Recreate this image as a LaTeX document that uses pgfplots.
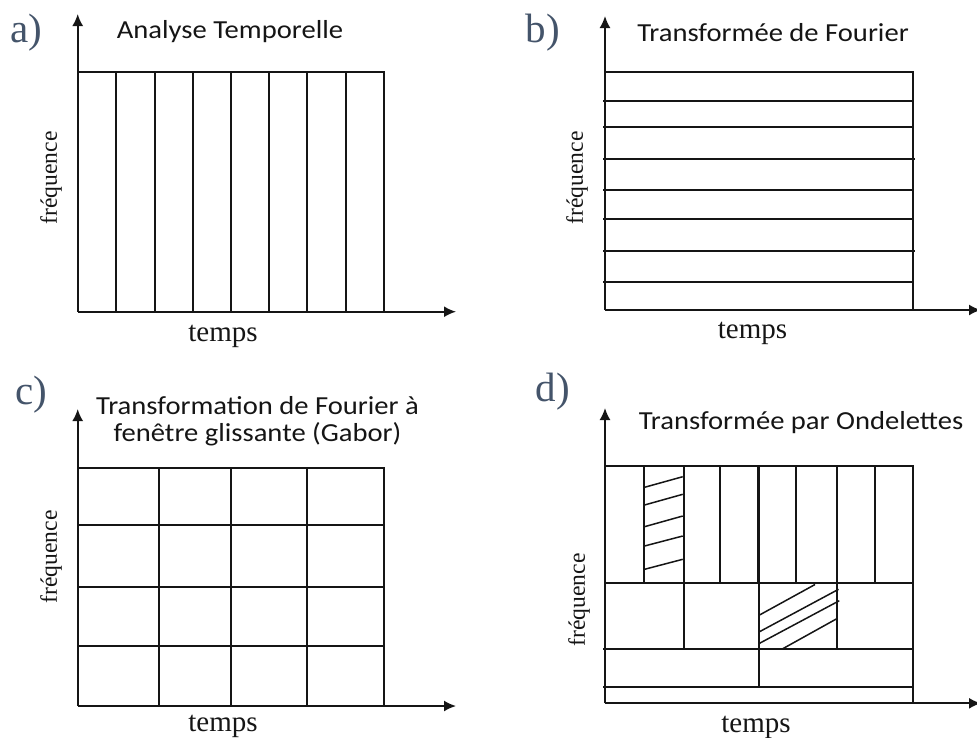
\documentclass[border=0pt]{standalone}
\usepackage{pgfplots}
\pgfplotsset{compat=1.18}
\usepackage{fontspec}
\setmainfont{Liberation Serif}
\newfontfamily\calibri[FakeStretch=1.1]{Carlito}
\usetikzlibrary{arrows.meta}
\definecolor{lbl}{HTML}{44546A}
\definecolor{ink}{HTML}{151515}
\begin{document}
\begin{tikzpicture}
\begin{axis}[
  x=0.5pt, y=0.5pt, y dir=reverse,
  xmin=0, xmax=977, ymin=0, ymax=737,
  hide axis, clip=false,
  at={(0,0)}, anchor=north west,
  seg/.style={ink, line width=1pt, no marks},
  hat/.style={ink, line width=0.75pt, no marks},
  ax/.style={ink, line width=0.9pt, no marks, -{Latex[length=6pt,width=5.5pt]}},
  every node/.append style={inner sep=0pt},
]
% ---------------- panel a ----------------
\addplot[seg] coordinates {(77.7,72.3) (384.3,72.3) (384.3,311.7)};
\addplot[seg] coordinates {(116.3,72.3) (116.3,311.7)};
\addplot[seg] coordinates {(154.7,72.3) (154.7,311.7)};
\addplot[seg] coordinates {(193,72.3) (193,311.7)};
\addplot[seg] coordinates {(231.3,72.3) (231.3,311.7)};
\addplot[seg] coordinates {(269.3,72.3) (269.3,311.7)};
\addplot[seg] coordinates {(307.3,72.3) (307.3,311.7)};
\addplot[seg] coordinates {(346,72.3) (346,311.7)};
\addplot[ax] coordinates {(77.7,311.7) (77.7,14)};
\addplot[ax] coordinates {(77.7,311.7) (456,311.7)};
% ---------------- panel b ----------------
\addplot[seg] coordinates {(605,72.3) (912.7,72.3) (912.7,310)};
\addplot[seg] coordinates {(603,100.7) (913,100.7)};
\addplot[seg] coordinates {(603,127.3) (913,127.3)};
\addplot[seg] coordinates {(603,159) (914.5,159)};
\addplot[seg] coordinates {(603,190.3) (913,190.3)};
\addplot[seg] coordinates {(603,218.7) (913,218.7)};
\addplot[seg] coordinates {(603,251) (914.5,251)};
\addplot[seg] coordinates {(603,281.7) (913,281.7)};
\addplot[ax] coordinates {(605,310) (605,16)};
\addplot[ax] coordinates {(605,310) (981,310)};
% ---------------- panel c ----------------
\addplot[seg] coordinates {(77.7,467.7) (384.3,467.7) (384.3,706)};
\addplot[seg] coordinates {(158.7,467.7) (158.7,706)};
\addplot[seg] coordinates {(231.3,467.7) (231.3,706)};
\addplot[seg] coordinates {(307.3,467.7) (307.3,706)};
\addplot[seg] coordinates {(77.7,525.3) (384.3,525.3)};
\addplot[seg] coordinates {(77.7,587) (384.3,587)};
\addplot[seg] coordinates {(77.7,646.3) (384.3,646.3)};
\addplot[ax] coordinates {(77.7,706) (77.7,409)};
\addplot[ax] coordinates {(77.7,706) (456,706)};
% ---------------- panel d ----------------
\addplot[seg] coordinates {(605,466.3) (912.7,466.3) (912.7,703.3)};
\addplot[seg] coordinates {(605,583.3) (912.7,583.3)};
\addplot[seg] coordinates {(603,649.3) (912.7,649.3)};
\addplot[seg] coordinates {(603,687.3) (912.7,687.3)};
\addplot[seg] coordinates {(643.7,466.3) (643.7,583.3)};
\addplot[seg] coordinates {(684,466.3) (684,649.3)};
\addplot[seg] coordinates {(720,466.3) (720,583.3)};
\addplot[ink, line width=1.7pt, no marks] coordinates {(758.7,466.3) (758.7,583.3)};
\addplot[seg] coordinates {(758.7,583.3) (758.7,687.3)};
\addplot[seg] coordinates {(796,466.3) (796,583.3)};
\addplot[seg] coordinates {(836.7,466.3) (836.7,649.3)};
\addplot[seg] coordinates {(875,466.3) (875,583.3)};
% hatching
\addplot[hat] coordinates {(644.5,487.3) (682.7,476.7)};
\addplot[hat] coordinates {(644.5,505) (682.7,494.3)};
\addplot[hat] coordinates {(644.5,526.7) (682.7,516)};
\addplot[hat] coordinates {(644.5,546) (682.7,536)};
\addplot[hat] coordinates {(644.5,569.3) (682.7,559.3)};
\addplot[hat] coordinates {(759.5,615) (815,584.5)};
\addplot[hat] coordinates {(759.5,631.7) (838.5,589.3)};
\addplot[hat] coordinates {(759.5,643.3) (839.3,600.7)};
\addplot[hat] coordinates {(781.7,649.3) (837.5,618.3)};
\addplot[ax] coordinates {(605,703.3) (605,408)};
\addplot[ax] coordinates {(605,703.3) (981,703.3)};
% ---------------- texts ----------------
\node[lbl, font=\fontsize{20.5}{23}\selectfont] at (axis cs:26,33) {a)};
\node[lbl, font=\fontsize{20.5}{23}\selectfont] at (axis cs:543,33) {b)};
\node[lbl, font=\fontsize{20.5}{23}\selectfont] at (axis cs:31,395) {c)};
\node[lbl, font=\fontsize{20.5}{23}\selectfont] at (axis cs:553,392) {d)};
\node[text=ink, font=\calibri\fontsize{13}{15}\selectfont] at (axis cs:230,32) {Analyse Temporelle};
\node[text=ink, font=\calibri\fontsize{13}{15}\selectfont] at (axis cs:773,33) {Transformée de Fourier};
\node[text=ink, font=\calibri\fontsize{13}{13.5}\selectfont, align=center] at (axis cs:257.5,421.5) {Transformation de Fourier à\\fenêtre glissante (Gabor)};
\node[text=ink, font=\calibri\fontsize{13}{15}\selectfont] at (axis cs:801,423) {Transformée par Ondelettes};
\node[text=ink, rotate=90, font=\fontsize{11.8}{13}\selectfont] at (axis cs:51,178) {fréquence};
\node[text=ink, rotate=90, font=\fontsize{11.8}{13}\selectfont] at (axis cs:577,178) {fréquence};
\node[text=ink, rotate=90, font=\fontsize{11.8}{13}\selectfont] at (axis cs:51,557) {fréquence};
\node[text=ink, rotate=90, font=\fontsize{11.8}{13}\selectfont] at (axis cs:579,600) {fréquence};
\node[text=ink, font=\fontsize{14.5}{16}\selectfont] at (axis cs:223,336) {temps};
\node[text=ink, font=\fontsize{14.5}{16}\selectfont] at (axis cs:752.5,333) {temps};
\node[text=ink, font=\fontsize{14.5}{16}\selectfont] at (axis cs:223,726) {temps};
\node[text=ink, font=\fontsize{14.5}{16}\selectfont] at (axis cs:756,727.5) {temps};
\end{axis}
\pgfresetboundingbox
\path (0,0) rectangle (488.5pt,-368.5pt);
\end{tikzpicture}
\end{document}
